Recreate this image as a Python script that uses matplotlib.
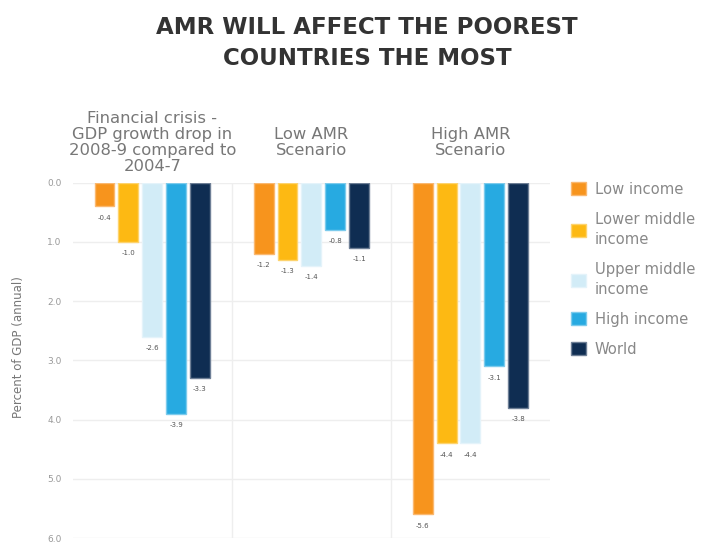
import matplotlib.pyplot as plt
import numpy as np
from matplotlib.patches import Patch
from matplotlib.ticker import FuncFormatter

groups = ["Financial crisis -\nGDP growth drop in\n2008-9 compared to\n2004-7",
          "Low AMR\nScenario", "High AMR\nScenario"]
series = ["Low income", "Lower middle\nincome", "Upper middle\nincome", "High income", "World"]
colors = ["#F7941D", "#FDB913", "#D2ECF7", "#27AAE1", "#0F2D52"]
edges = ["#FAB870", "#FDD36E", "#E4F3FA", "#7CCBEC", "#6E7F96"]

low_income = [-0.4, -1.2, -5.6]
lower_middle = [-1.0, -1.3, -4.4]
upper_middle = [-2.6, -1.4, -4.4]
high_income = [-3.9, -0.8, -3.1]
world = [-3.3, -1.1, -3.8]
values = [low_income, lower_middle, upper_middle, high_income, world]

fig = plt.figure(figsize=(7.06, 5.44), dpi=100)
ax = fig.add_axes([0.103, 0.011, 0.676, 0.653])

x = np.arange(len(groups))
slot = 0.15
width = 0.125
for i, (vals, c, e) in enumerate(zip(values, colors, edges)):
    pos = x + (i - 2) * slot
    ax.bar(pos, vals, width, color=c, edgecolor=e, linewidth=1.0, zorder=3)
    for p, v in zip(pos, vals):
        ax.annotate(f"{v:.1f}", (p, v), xytext=(0, -6), textcoords="offset points",
                    ha="center", va="top", fontsize=5, color="#555555")

ax.set_xlim(-0.5, 2.5)
ax.set_ylim(-6.0, 0.0)
ax.set_yticks([0, -1, -2, -3, -4, -5, -6])
ax.yaxis.set_major_formatter(FuncFormatter(lambda v, p: f"{abs(v):.1f}"))
ax.tick_params(axis="y", length=0, labelsize=6.5, labelcolor="#999999", pad=8)
ax.set_xticks([])
ax.grid(axis="y", color="#EEEEEE", linewidth=1.0, zorder=0)
for sep in (0.5, 1.5):
    ax.axvline(sep, color="#EEEEEE", linewidth=1.0, zorder=0)
for s in ax.spines.values():
    s.set_visible(False)

fig.text(0.026, 0.362, "Percent of GDP (annual)", rotation=90, ha="center", va="center",
         fontsize=8.5, color="#777777")

for xi, g in zip(x, groups):
    ax.text(xi, 0.68, g, ha="center", va="center", fontsize=11.8,
            color="#777777", linespacing=1.1)

fig.text(0.52, 0.921, "AMR WILL AFFECT THE POOREST\nCOUNTRIES THE MOST", ha="center",
         va="center", fontsize=16.5, fontweight="bold", color="#333333", linespacing=1.4)

handles = [Patch(facecolor=c, edgecolor=e) for c, e in zip(colors, edges)]
leg = fig.legend(handles, series, loc="upper left", bbox_to_anchor=(0.79, 0.69), frameon=False,
                 fontsize=10.6, labelcolor="#888888", handlelength=1.0, handleheight=1.0,
                 handletextpad=0.6, labelspacing=1.0)
for t in leg.get_texts():
    t.set_linespacing(1.45)

fig.savefig("out.png", dpi=100)
